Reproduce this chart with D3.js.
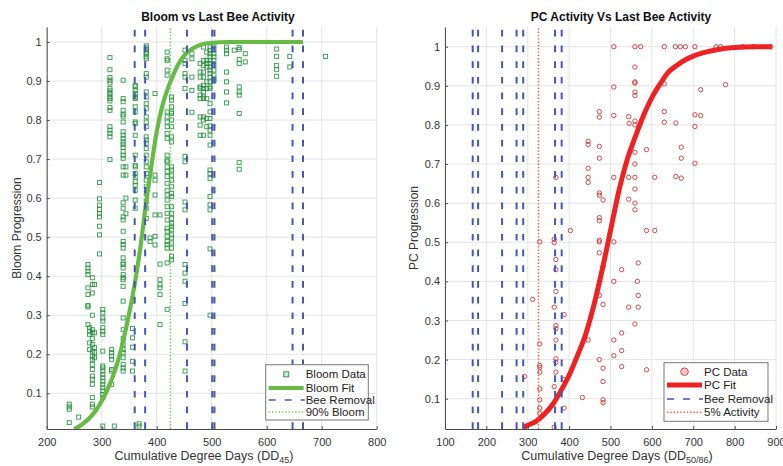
<!DOCTYPE html>
<html><head><meta charset="utf-8">
<script src="https://cdn.jsdelivr.net/npm/d3@7"></script>
<style>body{margin:0;background:#fff;} text{font-family:"Liberation Sans",Arial,Helvetica,sans-serif;}</style>
</head><body><svg id="c" width="783" height="466"></svg>
<script>
// ---------- Left panel data ----------
const bloomTitle = "Bloom vs Last Bee Activity";
const bloomYLabel = "Bloom Progression";
const bloomXTicks = [200, 300, 400, 500, 600, 700, 800];
const yTicks = [0.1, 0.2, 0.3, 0.4, 0.5, 0.6, 0.7, 0.8, 0.9, 1];
const bloomColX = [241, 258, 275, 278, 283, 287, 296, 302, 315, 318, 323, 339, 344, 356, 361, 368, 381, 388, 397, 406, 419, 427, 451.5, 464, 479, 485, 491, 497, 504, 527, 541, 550, 561, 618, 642, 707];
const bloomColY = [
  [0.072, 0.065, 0.059, 0.025],
  [0.039],
  [0.43, 0.421, 0.413, 0.404, 0.37, 0.353, 0.325, 0.321, 0.276],
  [0.268, 0.259, 0.251, 0.229, 0.212],
  [0.396, 0.379, 0.357, 0.3, 0.263, 0.255, 0.24, 0.225, 0.208, 0.195, 0.187, 0.174, 0.161, 0.144, 0.136, 0.123, 0.089, 0.072, 0.065],
  [0.379, 0.255, 0.217, 0.204, 0.191],
  [0.64, 0.598, 0.582, 0.571, 0.56, 0.552, 0.528, 0.506, 0.457],
  [0.315, 0.306, 0.293, 0.285, 0.268, 0.259, 0.251, 0.208, 0.17, 0.165, 0.157, 0.148, 0.14, 0.131, 0.123, 0.114, 0.106, 0.097, 0.089, 0.016],
  [0.96, 0.929, 0.909, 0.902, 0.895, 0.881, 0.875, 0.868, 0.861, 0.855, 0.849, 0.832, 0.825, 0.783, 0.774, 0.766, 0.757, 0.699],
  [0.212, 0.204, 0.195, 0.187, 0.161, 0.157, 0.123],
  [0.016],
  [0.902, 0.855, 0.847, 0.825, 0.815, 0.81, 0.795, 0.77, 0.761, 0.753, 0.744, 0.738, 0.73, 0.719, 0.71, 0.702, 0.68, 0.659, 0.588, 0.574, 0.552, 0.544, 0.515, 0.489, 0.481, 0.472, 0.447, 0.434, 0.43, 0.421, 0.404, 0.396, 0.391, 0.374, 0.336, 0.293, 0.263, 0.24, 0.225, 0.212, 0.204, 0.191, 0.174, 0.165, 0.157],
  [0.68, 0.659, 0.6, 0.56],
  [0.336, 0.266, 0.242, 0.218, 0.182, 0.157],
  [0.889, 0.885, 0.876, 0.868, 0.859, 0.855, 0.834, 0.821, 0.795, 0.791, 0.761, 0.71, 0.684, 0.68, 0.663, 0.654, 0.642, 0.633, 0.62, 0.595, 0.574],
  [0.022, 0.016],
  [0.99, 0.985, 0.98, 0.974, 0.97, 0.962, 0.957, 0.919, 0.91, 0.872, 0.859, 0.842, 0.829, 0.808, 0.795, 0.783, 0.757, 0.749, 0.74, 0.727, 0.71, 0.693, 0.68, 0.663, 0.646, 0.629, 0.612, 0.591, 0.574, 0.548],
  [0.498, 0.489],
  [0.868, 0.659, 0.646, 0.608, 0.557, 0.502, 0.48],
  [0.557, 0.431, 0.391, 0.378, 0.37, 0.353, 0.276],
  [0.974, 0.957, 0.953, 0.928, 0.915, 0.821, 0.808, 0.795, 0.783, 0.766, 0.753, 0.71, 0.697, 0.693, 0.68, 0.668, 0.655, 0.638, 0.62, 0.608, 0.595, 0.578, 0.561, 0.544, 0.523, 0.515, 0.502, 0.489, 0.481, 0.472, 0.434, 0.315],
  [0.859, 0.851, 0.834, 0.821, 0.817, 0.8, 0.783, 0.757, 0.744, 0.68, 0.672, 0.659, 0.646, 0.629, 0.612, 0.604, 0.578, 0.561, 0.548, 0.535, 0.528, 0.519, 0.506, 0.498, 0.485, 0.472, 0.451, 0.442],
  [0.979, 0.953, 0.945, 0.919, 0.91, 0.881, 0.707, 0.693, 0.59, 0.57, 0.43, 0.408, 0.387, 0.33, 0.232, 0.157],
  [0.97, 0.957, 0.91, 0.876, 0.82],
  [0.945, 0.923, 0.91, 0.885, 0.881, 0.864, 0.855, 0.808, 0.787, 0.761],
  [0.987, 0.953, 0.94, 0.923, 0.91, 0.889, 0.881, 0.872, 0.859, 0.855, 0.808, 0.8, 0.761],
  [0.974, 0.953, 0.945, 0.936, 0.898, 0.881, 0.855, 0.804, 0.783],
  [0.987, 0.979, 0.97, 0.962, 0.953, 0.945, 0.936, 0.928, 0.919, 0.91, 0.898, 0.885, 0.881, 0.842, 0.821, 0.804, 0.785, 0.774, 0.761, 0.736, 0.672, 0.663, 0.65, 0.604, 0.583, 0.57, 0.47, 0.3],
  [0.99, 0.98, 0.97, 0.962, 0.953, 0.94, 0.928, 0.915, 0.905, 0.9],
  [0.987, 0.979, 0.97, 0.923, 0.898, 0.872, 0.844],
  [0.979],
  [0.986, 0.981, 0.955, 0.945, 0.885, 0.872, 0.864, 0.817, 0.691, 0.674],
  [0.97, 0.949],
  [0.982, 0.963, 0.94, 0.929, 0.912],
  [0.963, 0.936],
  [0.963]
];
const bloomFitX = [250, 260, 270, 280, 290, 300, 310, 320, 330, 340, 350, 360, 370, 380, 390, 400, 410, 420, 430, 440, 450, 460, 470, 480, 500, 530, 600, 666];
const bloomFitY = [0.008, 0.016, 0.027, 0.04, 0.057, 0.08, 0.108, 0.142, 0.185, 0.24, 0.305, 0.38, 0.47, 0.58, 0.68, 0.77, 0.835, 0.88, 0.915, 0.945, 0.965, 0.978, 0.987, 0.993, 0.998, 1.0, 1.0, 1.0];
const bloomBeeRemoval = [360, 379, 455, 501, 505, 647, 666];
const bloom90 = [425];

// ---------- Right panel data ----------
const pcTitle = "PC Activity Vs Last Bee Activity";
const pcYLabel = "PC Progression";
const pcXTicks = [100, 200, 300, 400, 500, 600, 700, 800, 900];
const pcData = [
  [508,1],[559,1],[573,1],[630,1],[657,1],[669,1],[681,1],[704,1],[755,1],[766,1],[819,1],[845,1],[887,1],
  [559,0.948],[508,0.897],[559,0.91],[559,0.907],[630,0.905],[778,0.903],[718,0.89],[559,0.884],[559,0.875],
  [473,0.834],[473,0.82],[508,0.824],[544,0.821],[545,0.804],[559,0.81],[559,0.8],[630,0.834],[630,0.807],[658,0.805],[704,0.826],[718,0.824],[704,0.796],
  [446,0.758],[446,0.75],[473,0.745],[473,0.715],[559,0.73],[587,0.737],[559,0.70],[671,0.743],[671,0.715],[704,0.702],
  [368,0.666],[446,0.689],[446,0.666],[446,0.653],[508,0.666],[544,0.666],[559,0.666],[607,0.666],[658,0.668],[671,0.664],
  [559,0.636],[473,0.626],[473,0.62],[482,0.608],[544,0.61],[559,0.6],[559,0.583],[473,0.563],[473,0.555],
  [403,0.53],[587,0.53],[607,0.53],
  [329,0.501],[364,0.508],[364,0.499],[473,0.505],[473,0.501],[508,0.501],[473,0.473],[368,0.456],[482,0.438],[368,0.43],[527,0.43],[567,0.447],[474,0.4],[508,0.4],[565,0.4],
  [312,0.354],[368,0.374],[473,0.364],[482,0.341],[364,0.334],[544,0.334],[567,0.334],[567,0.364],[388,0.315],[559,0.291],[368,0.287],[368,0.279],[527,0.268],[368,0.25],[446,0.25],[508,0.25],[329,0.24],[527,0.223],[508,0.21],[368,0.202],[368,0.193],[473,0.2],[329,0.185],[329,0.18],[482,0.178],[527,0.182],[587,0.174],[329,0.168],[368,0.168],[292,0.157],[388,0.149],[482,0.144],[329,0.125],[364,0.131],[432,0.103],[482,0.097],[482,0.09],[329,0.097],[388,0.076],[329,0.076],[364,0.027],[329,0.063]
];
const pcFitX = [290, 300, 320, 340, 360, 380, 400, 420, 440, 460, 480, 500, 520, 540, 560, 580, 600, 620, 640, 660, 680, 700, 730, 760, 800, 850, 890];
const pcFitY = [0.026, 0.032, 0.042, 0.06, 0.085, 0.12, 0.16, 0.21, 0.265, 0.34, 0.43, 0.53, 0.63, 0.71, 0.77, 0.825, 0.87, 0.905, 0.935, 0.952, 0.966, 0.976, 0.986, 0.993, 0.998, 1.0, 1.0];
const pcBeeRemoval = [167, 180, 238, 273, 289, 366, 382];
const pc5 = [326];

// ---------- drawing ----------
const svg = d3.select("#c");
const AX = "#4d4d4d", TX = "#333", GRID = "#e4e4e4";
const BLUE = "#4458b0";

function panel(cfg) {
  const x = d3.scaleLinear().domain(cfg.xDomain).range([cfg.left, cfg.right]);
  const y = d3.scaleLinear().domain(cfg.yDomain).range([cfg.bottom, cfg.top]);
  const g = svg.append("g");
  const clipId = "clip" + cfg.id;
  svg.append("clipPath").attr("id", clipId).append("rect")
    .attr("x", cfg.left).attr("y", cfg.top).attr("width", cfg.right - cfg.left).attr("height", cfg.bottom - cfg.top);

  // grid
  g.append("g").selectAll("line").data(cfg.xTicks).join("line")
    .attr("x1", d => x(d)).attr("x2", d => x(d)).attr("y1", cfg.top).attr("y2", cfg.bottom)
    .attr("stroke", GRID).attr("stroke-width", 1);
  g.append("g").selectAll("line").data(cfg.yTicks).join("line")
    .attr("x1", cfg.left).attr("x2", cfg.right).attr("y1", d => y(d)).attr("y2", d => y(d))
    .attr("stroke", GRID).attr("stroke-width", 1);

  const plot = g.append("g").attr("clip-path", `url(#${clipId})`);
  cfg.drawData(plot, x, y);

  // fit
  const line = d3.line().x(d => x(d[0])).y(d => y(d[1])).curve(d3.curveMonotoneX);
  plot.append("path").datum(cfg.fitX.map((v, i) => [v, cfg.fitY[i]]))
    .attr("d", line).attr("fill", "none").attr("stroke", cfg.fitColor)
    .attr("stroke-width", cfg.fitWidth).attr("stroke-linecap", "butt");

  // bee removal lines
  plot.append("g").selectAll("line").data(cfg.bee).join("line")
    .attr("x1", d => x(d)).attr("x2", d => x(d)).attr("y1", cfg.bottom).attr("y2", cfg.top)
    .attr("stroke", BLUE).attr("stroke-width", 2).attr("stroke-dasharray", "6.7,9");
  // threshold line
  plot.append("g").selectAll("line").data(cfg.thr).join("line")
    .attr("x1", d => x(d)).attr("x2", d => x(d)).attr("y1", cfg.bottom).attr("y2", cfg.top)
    .attr("stroke", cfg.thrColor).attr("stroke-width", 1.6).attr("stroke-dasharray", "1.4,1.9");

  // axes
  const xa = g.append("g").attr("transform", `translate(0,${cfg.bottom})`)
    .call(d3.axisBottom(x).tickValues(cfg.xTicks).tickSize(-3).tickSizeOuter(0).tickPadding(9).tickFormat(d3.format("d")));
  const ya = g.append("g").attr("transform", `translate(${cfg.left},0)`)
    .call(d3.axisLeft(y).tickValues(cfg.yTicks).tickSize(-3).tickSizeOuter(0).tickPadding(5).tickFormat(d => d3.format("")(d)));
  [xa, ya].forEach(a => {
    a.select(".domain").attr("stroke", AX);
    a.selectAll(".tick line").attr("stroke", AX);
    a.selectAll("text").attr("fill", TX).style("font-size", "11px")
      .style("font-family", '"Liberation Sans",Arial,sans-serif');
  });

  // title
  svg.append("text").attr("x", cfg.titleX).attr("y", 21).attr("text-anchor", "middle")
    .style("font-size", "12px").style("font-weight", "bold").attr("fill", "#111").text(cfg.title);
  // y label
  svg.append("text").attr("transform", `translate(${cfg.yLabelX},${(cfg.top + cfg.bottom) / 2}) rotate(-90)`)
    .attr("text-anchor", "middle").style("font-size", "12px").attr("fill", TX).text(cfg.yLabel);
  // x label with subscript
  const xl = svg.append("text").attr("x", cfg.xLabelX).attr("y", 459.5).attr("text-anchor", "middle")
    .style("font-size", "12.5px").attr("fill", TX);
  xl.append("tspan").text("Cumulative Degree Days (DD");
  xl.append("tspan").attr("dy", 3).style("font-size", "9px").text(cfg.sub);
  xl.append("tspan").attr("dy", -3).text(")");

  // legend
  const L = cfg.legend;
  const lg = svg.append("g");
  lg.append("rect").attr("x", L.x).attr("y", L.y).attr("width", L.w).attr("height", L.h)
    .attr("fill", "#fff").attr("stroke", "#777").attr("stroke-width", 1);
  const sx0 = L.x + 3, sx1 = L.x + 38, tx = L.x + 40;
  const rows = L.rows;
  cfg.legendMarker(lg, (sx0 + sx1) / 2, rows[0]);
  lg.append("line").attr("x1", sx0).attr("x2", sx1).attr("y1", rows[1]).attr("y2", rows[1])
    .attr("stroke", cfg.fitColor).attr("stroke-width", cfg.fitWidth);
  lg.append("line").attr("x1", sx0).attr("x2", sx1 + 1).attr("y1", rows[2]).attr("y2", rows[2])
    .attr("stroke", BLUE).attr("stroke-width", 1.4).attr("stroke-dasharray", "7,9");
  lg.append("line").attr("x1", sx0).attr("x2", sx1).attr("y1", rows[3]).attr("y2", rows[3])
    .attr("stroke", cfg.thrColor).attr("stroke-width", 1.6).attr("stroke-dasharray", "1.4,1.9");
  L.labels.forEach((t, i) => {
    lg.append("text").attr("x", tx).attr("y", rows[i] + 4).style("font-size", "11.5px").attr("fill", "#222").text(t);
  });
}

panel({
  id: "L", xDomain: [200, 800], yDomain: [0.0085, 1.0384],
  left: 46.7, right: 376.7, top: 27, bottom: 429,
  xTicks: bloomXTicks, yTicks: yTicks,
  title: bloomTitle, titleX: 218, yLabel: bloomYLabel, yLabelX: 21, xLabelX: 204, sub: "45",
  fitX: bloomFitX, fitY: bloomFitY, fitColor: "#66bb44", fitWidth: 4.2,
  bee: bloomBeeRemoval, thr: bloom90, thrColor: "#6fcf4f",
  drawData: (p, x, y) => {
    const pts = [];
    bloomColX.forEach((cx, i) => bloomColY[i].forEach(v => pts.push([cx, v])));
    p.append("g").selectAll("rect").data(pts).join("rect")
      .attr("x", d => x(d[0]) - 2).attr("y", d => y(d[1]) - 2).attr("width", 4).attr("height", 4)
      .attr("fill", "none").attr("stroke", "#23913f").attr("stroke-width", 1).attr("opacity", 0.85);
  },
  legendMarker: (lg, cx, cy) => lg.append("rect").attr("x", cx - 2.5).attr("y", cy - 2.5).attr("width", 5).attr("height", 5)
      .attr("fill", "#cfe8d2").attr("stroke", "#3a9a50").attr("stroke-width", 1),
  legend: { x: 265.7, y: 364.7, w: 102.6, h: 55.3, rows: [374.3, 388, 400, 412],
    labels: ["Bloom Data", "Bloom Fit", "Bee Removal", "90% Bloom"] }
});

panel({
  id: "R", xDomain: [100, 900], yDomain: [0.0225, 1.0504],
  left: 445, right: 776, top: 27, bottom: 429,
  xTicks: pcXTicks, yTicks: yTicks,
  title: pcTitle, titleX: 621, yLabel: pcYLabel, yLabelX: 418, xLabelX: 617, sub: "50/86",
  fitX: pcFitX, fitY: pcFitY, fitColor: "#ee2222", fitWidth: 5,
  bee: pcBeeRemoval, thr: pc5, thrColor: "#ff5a3c",
  drawData: (p, x, y) => {
    p.append("g").selectAll("circle").data(pcData).join("circle")
      .attr("cx", d => x(d[0])).attr("cy", d => y(d[1])).attr("r", 2.2)
      .attr("fill", "none").attr("stroke", "#c53a3a").attr("stroke-width", 1).attr("opacity", 0.9);
  },
  legendMarker: (lg, cx, cy) => lg.append("circle").attr("cx", cx).attr("cy", cy).attr("r", 3.8)
      .attr("fill", "#f3c6c6").attr("stroke", "#c85050").attr("stroke-width", 1),
  legend: { x: 664, y: 362.7, w: 104, h: 58.6, rows: [371.7, 385, 399, 412.3],
    labels: ["PC Data", "PC Fit", "Bee Removal", "5% Activity"] }
});
</script>
</body></html>
